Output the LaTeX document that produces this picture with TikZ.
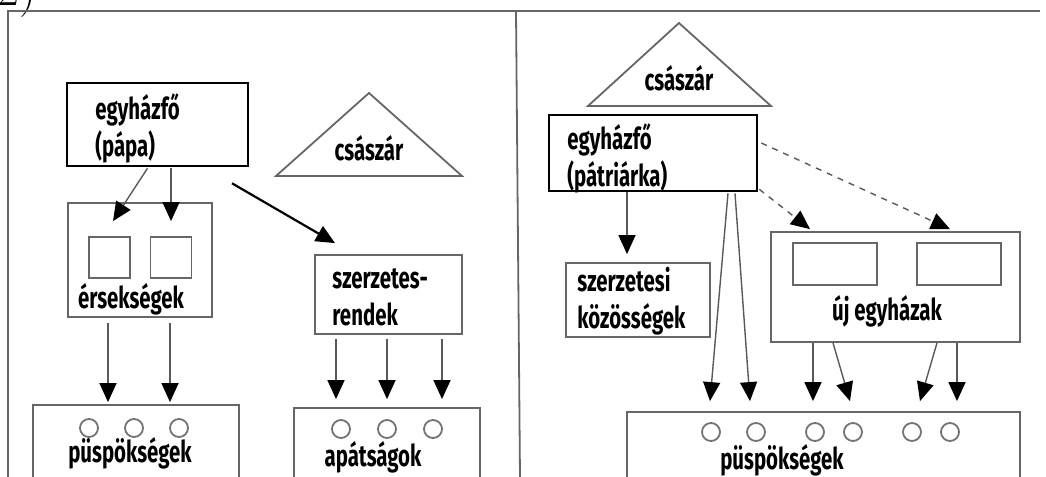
\documentclass[tikz,border=0pt]{standalone}
\usepackage{fontspec}
\newfontfamily\diafont{Fira Sans}[FakeStretch=0.68]
\usetikzlibrary{arrows.meta,positioning,calc}

\begin{document}
\begin{tikzpicture}
[x=0.5pt, y=-0.5pt,
    every node/.style={font=\diafont\bfseries\fontsize{15}{18.5}\selectfont, inner sep=0pt},
    box/.style={draw=black!60, line width=0.9pt, rectangle},
    headbox/.style={draw=black, line width=1.3pt, rectangle},
    dot/.style={draw=black!55, line width=0.9pt, circle, minimum size=9pt},
    tri/.style={draw=black!60, line width=0.9pt},
    arr/.style={draw=black!65, line width=0.7pt, -{Triangle[width=8.5pt,length=9.5pt,black]}},
    frame/.style={draw=black!60, line width=0.9pt}]
    \useasboundingbox (0,0) rectangle (1046,477);
    \node[font=\rmfamily\fontsize{24}{28}\selectfont, anchor=base west] (num) at (-3,5) {2)};
    \draw[frame] (1040,11) -- (8,11) -- (8,477);
    \draw[frame] (516,11) -- (520,477);

    \node[headbox, minimum width=90.5pt, minimum height=41.5pt] (papa) at (157.5,124.5) {};
    \node[anchor=base west, align=left] (papatext) at (95,156) {egyházfő\\(pápa)};
    \coordinate (apex1) at (369,93);
    \draw[tri] (apex1) -- (276,176) -- (462,176) -- cycle;
    \node[anchor=base] (csaszar1) at (369,160) {császár};
    \node[box, minimum width=72pt, minimum height=57pt] (ersek) at (140,260) {};
    \node[box, minimum size=20.5pt] (sq1) at (109.5,257.5) {};
    \node[box, minimum size=20.5pt] (sq2) at (171,257.5) {};
    \node[anchor=base] (ersektext) at ([shift={(-9,-9)}]ersek.south) {érsekségek};
    \node[box, minimum width=73.5pt, minimum height=39.5pt] (szerz) at (388.5,294.5) {};
    \node[anchor=base west, align=left] (szerztext) at (332,325) {szerzetes-\\rendek};
    \node[box, minimum width=103pt, minimum height=45pt] (pusp1) at (136,450) {};
    \foreach \x in {89,134,179} \node[dot] (p\x) at (\x,428) {};
    \node[anchor=base] (pusp1text) at ([shift={(-6,58)}]pusp1.north) {püspökségek};
    \node[box, minimum width=93pt, minimum height=43.5pt] (apat) at (387,451.5) {};
    \foreach \x in {341,387,433} \node[dot] (a\x) at (\x,429) {};
    \node[anchor=base] (apattext) at ([shift={(-14,59)}]apat.north) {apátságok};

    \draw[arr] ([shift={(-10,1)}]papa.south) -- ([shift={(3.5,-15)}]sq1.north);
    \draw[arr] ([shift={(13.5,1)}]papa.south) -- ([shift={(0,-15)}]sq2.north);
    \draw[arr, draw=black, line width=1.1pt] ([shift={(74.5,16)}]papa.south) -- ([shift={(-53.5,-11)}]szerz.north);
    \foreach \dx in {-16pt,15pt}
        \draw[arr, shorten <=2.5pt, shorten >=1pt] ([xshift=\dx]ersek.south) -- ([xshift=\dx]ersek.south |- pusp1.north);
    \foreach \dx in {-26.25pt,-0.75pt,26.75pt}
        \draw[arr, shorten <=2pt, shorten >=4pt] ([xshift=\dx]szerz.south) -- ([xshift=\dx]szerz.south |- apat.north);

    \coordinate (apex2) at (679,23);
    \draw[tri] (apex2) -- (588,106) -- (771,106) -- cycle;
    \node[anchor=base] (csaszar2) at (679,90) {császár};
    \node[headbox, minimum width=104pt, minimum height=38pt] (pat) at (653,153) {};
    \node[anchor=base west, align=left] (pattext) at (567,186) {egyházfő\\(pátriárka)};
    \node[box, minimum width=72pt, minimum height=37pt] (koz) at (638,300) {};
    \node[anchor=base west, align=left] (koztext) at (577,328) {szerzetesi\\közösségek};
    \node[box, minimum width=124.5pt, minimum height=55pt] (uj) at (895.5,287) {};
    \node[box, minimum width=42pt, minimum height=21pt] (r1) at (835,264) {};
    \node[box, minimum width=42pt, minimum height=21pt] (r2) at (959,264) {};
    \node[anchor=base] (ujtext) at ([shift={(-8.5,-22)}]uj.south) {új egyházak};
    \node[box, minimum width=196.5pt, minimum height=41.5pt] (pusp2) at (823.5,453.5) {};
    \foreach \x in {711,756,815,853,912,950} \node[dot] (q\x) at (\x,432) {};
    \node[anchor=base] (pusp2text) at ([shift={(-41.5,58)}]pusp2.north) {püspökségek};

    \draw[arr, shorten >=4pt] ([xshift=-13pt]pat.south) -- ([xshift=-13pt]pat.south |- koz.north);
    \draw[arr] ([shift={(75,1)}]pat.south) -- ([shift={(-113.5,-10)}]pusp2.north);
    \draw[arr] ([shift={(82,1)}]pat.south) -- ([shift={(-73.5,-10)}]pusp2.north);
    \draw[arr, dashed] ([shift={(3,-10)}]pat.east) -- ([shift={(54.5,-2)}]uj.north);
    \draw[arr, dashed] ([shift={(1,-3)}]pat.south east) -- ([shift={(-85.5,-2)}]uj.north);
    \draw[arr] ([shift={(-82.5,0)}]uj.south) -- ([shift={(-10.5,-10)}]pusp2.north);
    \draw[arr] ([shift={(-62.5,0)}]uj.south) -- ([shift={(26.5,-10)}]pusp2.north);
    \draw[arr] ([shift={(41.5,0)}]uj.south) -- ([shift={(96.5,-10)}]pusp2.north);
    \draw[arr] ([shift={(61.5,0)}]uj.south) -- ([shift={(133.5,-10)}]pusp2.north);
\end{tikzpicture}
\end{document}
